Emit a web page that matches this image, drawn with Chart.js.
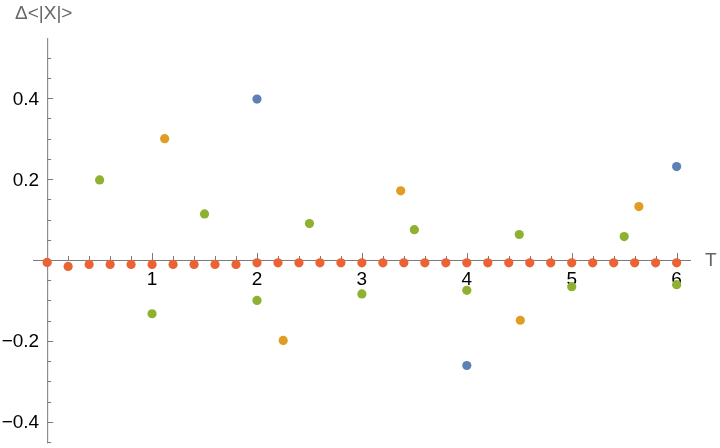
<!DOCTYPE html>
<html>
<head>
<meta charset="utf-8">
<script src="https://cdn.jsdelivr.net/npm/chart.js@4.4.1/dist/chart.umd.min.js"></script>
<style>
  html, body { margin: 0; padding: 0; background: #fff; }
  #wrap { width: 720px; height: 448px; position: relative; }
</style>
</head>
<body>
<div id="wrap"><canvas id="myChart" width="720" height="448"></canvas></div>
<script>
// data
const blueX = [2, 4, 6];
const blueY = [0.398, -0.261, 0.231];

const orangeX = [1.12, 2.25, 3.37, 4.51, 5.64];
const orangeY = [0.300, -0.199, 0.171, -0.149, 0.132];

const greenX = [0.5, 1, 1.5, 2, 2.5, 3, 3.5, 4, 4.5, 5, 5.5, 6];
const greenY = [0.198, -0.133, 0.114, -0.100, 0.090, -0.084, 0.075, -0.075, 0.063, -0.066, 0.058, -0.061];

const redX = [0, 0.2, 0.4, 0.6, 0.8, 1, 1.2, 1.4, 1.6, 1.8, 2, 2.2, 2.4, 2.6, 2.8, 3,
  3.2, 3.4, 3.6, 3.8, 4, 4.2, 4.4, 4.6, 4.8, 5, 5.2, 5.4, 5.6, 5.8, 6];
const redY = [-0.006, -0.016, -0.011, -0.011, -0.011, -0.011, -0.011, -0.011, -0.011, -0.011,
  -0.007, -0.007, -0.007, -0.007, -0.007, -0.007, -0.007, -0.007, -0.007, -0.007, -0.007,
  -0.007, -0.007, -0.007, -0.007, -0.007, -0.007, -0.007, -0.007, -0.007, -0.007];

// tick values and labels
const xTicks = [1, 2, 3, 4, 5, 6];
const xTickLabels = ["1", "2", "3", "4", "5", "6"];
const yTicks = [-0.4, -0.2, 0.2, 0.4];
const yTickLabels = ["\u22120.4", "\u22120.2", "0.2", "0.4"];

const xLabel = "T";
const yLabel = "\u0394<|X|>";

function pts(xs, ys) {
  return xs.map((x, i) => ({x: x, y: ys[i]}));
}

const axisColor = "#7a7a7a";
const font = "19px 'Liberation Sans', Arial, sans-serif";

// draws Mathematica style axes through the origin
const originAxes = {
  id: "originAxes",
  beforeDatasetsDraw(chart) {
    const ctx = chart.ctx;
    const xs = chart.scales.x, ys = chart.scales.y;
    const x0 = xs.getPixelForValue(0), y0 = ys.getPixelForValue(0);
    ctx.save();
    ctx.strokeStyle = axisColor;
    ctx.lineWidth = 1;
    ctx.beginPath();
    ctx.moveTo(xs.left, y0 + 0.5);
    ctx.lineTo(xs.right, y0 + 0.5);
    ctx.moveTo(x0 + 0.5, ys.top);
    ctx.lineTo(x0 + 0.5, ys.bottom);
    // x ticks (upwards)
    for (let v = 0.2; v <= xs.max + 1e-9; v += 0.2) {
      const p = Math.round(xs.getPixelForValue(v)) + 0.5;
      const major = Math.abs(v - Math.round(v)) < 1e-6;
      ctx.moveTo(p, y0);
      ctx.lineTo(p, y0 - (major ? 7 : 4));
    }
    // y ticks (to the right)
    for (let k = -9; k <= 11; k++) {
      const v = k * 0.05;
      if (k === 0 || v < ys.min || v > ys.max) continue;
      const p = Math.round(ys.getPixelForValue(v)) + 0.5;
      const major = k % 4 === 0;
      ctx.moveTo(x0, p);
      ctx.lineTo(x0 + (major ? 6 : 4), p);
    }
    ctx.stroke();

    ctx.font = font;
    ctx.fillStyle = "#000";
    ctx.textAlign = "center";
    ctx.textBaseline = "alphabetic";
    xTicks.forEach((v, i) => {
      ctx.fillText(xTickLabels[i], xs.getPixelForValue(v), y0 + 25.5);
    });
    ctx.textAlign = "right";
    yTicks.forEach((v, i) => {
      ctx.fillText(yTickLabels[i], x0 - 8, ys.getPixelForValue(v) + 6.5);
    });

    ctx.fillStyle = "#666";
    ctx.textAlign = "left";
    ctx.fillText(xLabel, 705, y0 + 6.5);
    ctx.fillText(yLabel, 15, 19);
    ctx.restore();
  }
};

new Chart(document.getElementById("myChart").getContext("2d"), {
  type: "scatter",
  data: {
    datasets: [
      {label: "blue", data: pts(blueX, blueY), backgroundColor: "#5E81B5", order: 4},
      {label: "orange", data: pts(orangeX, orangeY), backgroundColor: "#E19C24", order: 3},
      {label: "green", data: pts(greenX, greenY), backgroundColor: "#8FB131", order: 2},
      {label: "red", data: pts(redX, redY), backgroundColor: "#EB6235", order: 1}
    ]
  },
  options: {
    responsive: false,
    animation: false,
    layout: {padding: {left: 33, right: 29, top: 38, bottom: 4}},
    elements: {point: {radius: 4.6, borderWidth: 0, hoverRadius: 4.6}},
    plugins: {legend: {display: false}, tooltip: {enabled: false}},
    scales: {
      x: {type: "linear", min: -0.135, max: 6.137, display: false},
      y: {type: "linear", min: -0.4536, max: 0.549, display: false}
    }
  },
  plugins: [originAxes]
});
</script>
</body>
</html>
